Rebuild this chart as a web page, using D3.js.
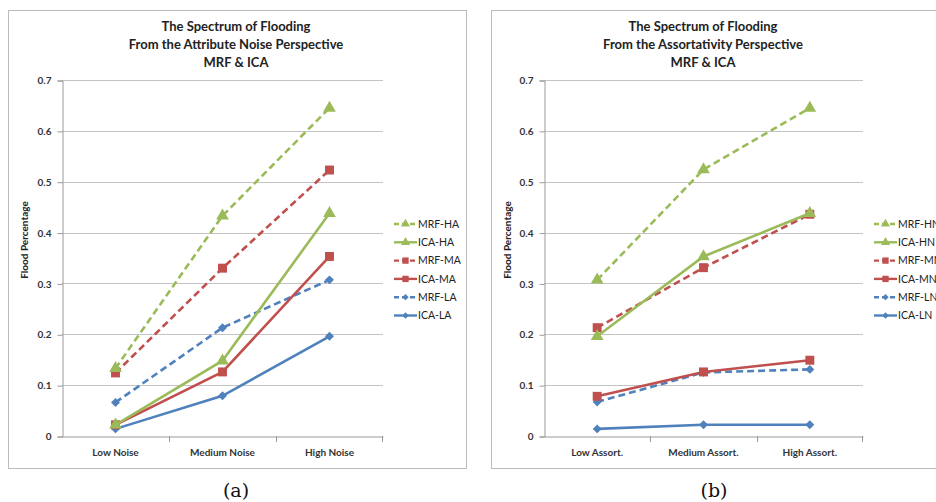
<!DOCTYPE html>
<html lang="en">
<head>
  <meta charset="UTF-8">
  <title>Spectrum of Flooding</title>
  <script src="https://cdn.jsdelivr.net/npm/d3@7/dist/d3.min.js"></script>
  <style>
    body { margin: 0; background: #fff; }
    text { font-family: Lato, "Open Sans", sans-serif; fill: #222; }
    text.caption { font-family: "DejaVu Serif", "Liberation Serif", serif; }
  </style>
</head>
<body>
  <div id="main"></div>
  <script>
    // categories
    var noiseCats = ["Low Noise", "Medium Noise", "High Noise"];
    var assortCats = ["Low Assort.", "Medium Assort.", "High Assort."];
    var yTicks = [0, 0.1, 0.2, 0.3, 0.4, 0.5, 0.6, 0.7];

    // (a) attribute noise perspective
    var noiseNames = ["MRF-HA", "ICA-HA", "MRF-MA", "ICA-MA", "MRF-LA", "ICA-LA"];
    var mrfHA = [0.133, 0.433, 0.645];
    var icaHA = [0.022, 0.148, 0.438];
    var mrfMA = [0.124, 0.330, 0.523];
    var icaMA = [0.022, 0.126, 0.353];
    var mrfLA = [0.066, 0.213, 0.307];
    var icaLA = [0.014, 0.079, 0.196];

    // (b) assortativity perspective
    var assortNames = ["MRF-HN", "ICA-HN", "MRF-MN", "ICA-MN", "MRF-LN", "ICA-LN"];
    var mrfHN = [0.307, 0.524, 0.645];
    var icaHN = [0.196, 0.353, 0.438];
    var mrfMN = [0.213, 0.331, 0.436];
    var icaMN = [0.078, 0.126, 0.149];
    var mrfLN = [0.067, 0.125, 0.131];
    var icaLN = [0.014, 0.022, 0.022];

    var green = "#9bbb59", red = "#c0504d", blue = "#4f81bd";
    var styles = [
      { color: green, dash: true, shape: d3.symbolTriangle, size: 70, rot: 0 },
      { color: green, dash: false, shape: d3.symbolTriangle, size: 70, rot: 0 },
      { color: red, dash: true, shape: d3.symbolSquare, size: 80, rot: 0 },
      { color: red, dash: false, shape: d3.symbolSquare, size: 80, rot: 0 },
      { color: blue, dash: true, shape: d3.symbolSquare, size: 40, rot: 45 },
      { color: blue, dash: false, shape: d3.symbolSquare, size: 40, rot: 45 }
    ];

    var svg = d3.select("#main").append("svg")
      .attr("width", 936)
      .attr("height", 502);

    function drawPanel(p) {
      var g = svg.append("g");

      // 外框
      g.append("rect")
        .attr("x", p.boxX + 0.5).attr("y", 10.5)
        .attr("width", p.boxW).attr("height", 458)
        .attr("fill", "#fff").attr("stroke", "#bcbcbc").attr("stroke-width", 1);

      var x = d3.scaleBand().domain(p.cats).range([p.left, p.right]);
      var y = d3.scaleLinear().domain([0, 0.7]).range([436, 80]);

      // 网格线
      g.selectAll(".grid").data(yTicks.slice(1)).enter().append("line")
        .attr("x1", p.left).attr("x2", p.right)
        .attr("y1", function (d) { return Math.round(y(d)) + 0.5; })
        .attr("y2", function (d) { return Math.round(y(d)) + 0.5; })
        .attr("stroke", "#c4c4c4").attr("stroke-width", 1);

      // y 轴
      var yAxis = g.append("g")
        .attr("transform", "translate(" + (p.left + 0.5) + ",0.5)")
        .call(d3.axisLeft(y).tickValues(yTicks).tickSize(5).tickPadding(6)
          .tickFormat(function (d) { return d === 0 ? "0" : d3.format(".1f")(d); }));
      yAxis.select(".domain").attr("stroke", "#9a9a9a");
      yAxis.selectAll(".tick line").attr("stroke", "#9a9a9a");
      yAxis.selectAll("text").attr("font-size", 10).attr("font-weight", "bold")
        .style("fill", "#333");

      // x 轴
      var xAxis = g.append("g")
        .attr("transform", "translate(0," + (Math.round(y(0)) + 0.5) + ")")
        .call(d3.axisBottom(x).tickSize(0).tickPadding(12));
      xAxis.select(".domain").attr("stroke", "#9a9a9a");
      xAxis.selectAll("text").attr("font-size", 10).attr("font-weight", "bold")
        .style("fill", "#333");
      // 类别分隔刻度
      g.selectAll(".xsep").data(p.cats.slice(1)).enter().append("line")
        .attr("x1", function (d) { return Math.round(x(d)) + 0.5; })
        .attr("x2", function (d) { return Math.round(x(d)) + 0.5; })
        .attr("y1", Math.round(y(0))).attr("y2", Math.round(y(0)) + 6)
        .attr("stroke", "#9a9a9a");
      g.append("line")
        .attr("x1", p.right - 0.5).attr("x2", p.right - 0.5)
        .attr("y1", Math.round(y(0))).attr("y2", Math.round(y(0)) + 6)
        .attr("stroke", "#9a9a9a");

      // y 轴标题
      g.append("text")
        .attr("transform", "translate(" + p.yTitleX + ",240) rotate(-90)")
        .attr("text-anchor", "middle")
        .attr("font-size", 10).attr("font-weight", "bold")
        .text("Flood Percentage");

      // 标题
      g.selectAll(".title").data(p.title).enter().append("text")
        .attr("x", p.titleX)
        .attr("y", function (d, i) { return 31 + i * 18; })
        .attr("text-anchor", "middle")
        .attr("font-size", 13).attr("font-weight", "bold")
        .text(function (d) { return d; });

      var cx = function (i) { return x(p.cats[i]) + x.bandwidth() / 2; };
      var line = d3.line()
        .x(function (d, i) { return cx(i); })
        .y(function (d) { return y(d); });

      // 折线，先画底部的线
      for (var k = p.series.length - 1; k >= 0; k--) {
        var s = styles[k];
        g.append("path")
          .datum(p.series[k])
          .attr("d", line)
          .attr("fill", "none")
          .attr("stroke", s.color)
          .attr("stroke-width", 2.6)
          .attr("stroke-dasharray", s.dash ? "7,4" : null);
        g.selectAll(".m" + k).data(p.series[k]).enter().append("path")
          .attr("d", d3.symbol().type(s.shape).size(s.size))
          .attr("transform", function (d, i) {
            return "translate(" + cx(i) + "," + y(d) + ") rotate(" + s.rot + ")";
          })
          .attr("fill", s.color);
      }

      // 图例
      var lg = g.selectAll(".legend").data(p.names).enter().append("g")
        .attr("transform", function (d, i) { return "translate(" + p.legendX + "," + (224 + i * 18.3) + ")"; });
      lg.append("line")
        .attr("x1", 0).attr("x2", 23)
        .attr("stroke", function (d, i) { return styles[i].color; })
        .attr("stroke-width", 2.4)
        .attr("stroke-dasharray", function (d, i) { return styles[i].dash ? "5,3" : null; });
      lg.append("path")
        .attr("d", function (d, i) { return d3.symbol().type(styles[i].shape).size(styles[i].size * 0.5)(); })
        .attr("transform", function (d, i) { return "translate(11.5,0) rotate(" + styles[i].rot + ")"; })
        .attr("fill", function (d, i) { return styles[i].color; });
      lg.append("text")
        .attr("x", 24).attr("dy", "0.35em")
        .attr("font-size", 10.5)
        .text(function (d) { return d; });

      // 子图标号
      svg.append("text")
        .attr("class", "caption")
        .attr("x", p.capX).attr("y", 497)
        .attr("text-anchor", "middle")
        .attr("font-size", 19)
        .style("fill", "#111")
        .text(p.caption);
    }

    drawPanel({
      boxX: 8, boxW: 458, left: 62, right: 383, titleX: 236, yTitleX: 28,
      legendX: 394, capX: 236, caption: "(a)", cats: noiseCats, names: noiseNames,
      title: ["The Spectrum of Flooding", "From the Attribute Noise Perspective", "MRF & ICA"],
      series: [mrfHA, icaHA, mrfMA, icaMA, mrfLA, icaLA]
    });

    drawPanel({
      boxX: 491, boxW: 470, left: 544, right: 863, titleX: 703, yTitleX: 511,
      legendX: 874, capX: 714, caption: "(b)", cats: assortCats, names: assortNames,
      title: ["The Spectrum of Flooding", "From the Assortativity Perspective", "MRF & ICA"],
      series: [mrfHN, icaHN, mrfMN, icaMN, mrfLN, icaLN]
    });
  </script>
</body>
</html>
